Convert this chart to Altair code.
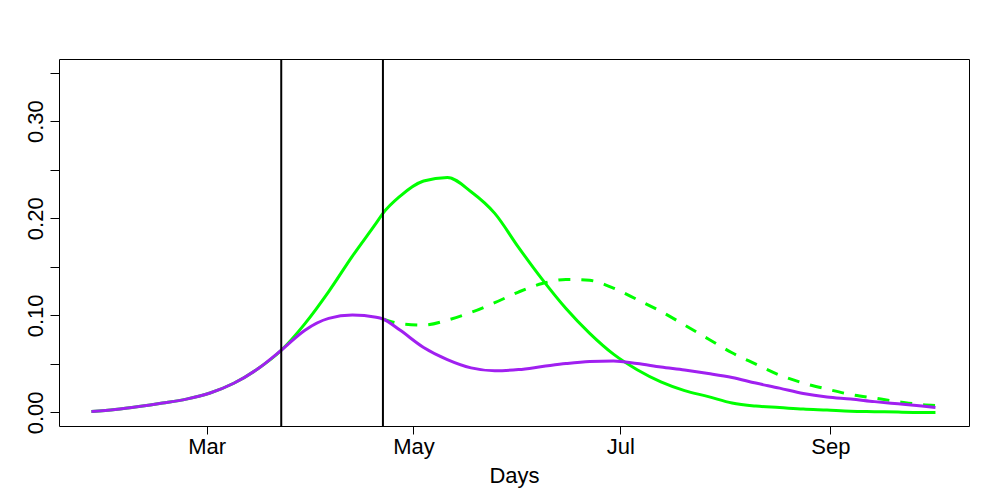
import altair as alt
import pandas as pd

# ---- data ----
dates = [
    "2020-01-27", "2020-02-03", "2020-02-10", "2020-02-17", "2020-02-24",
    "2020-03-02", "2020-03-09", "2020-03-16", "2020-03-23", "2020-03-30",
    "2020-04-06", "2020-04-13", "2020-04-20", "2020-04-22", "2020-04-27",
    "2020-05-04", "2020-05-11", "2020-05-18", "2020-05-25", "2020-06-01",
    "2020-06-08", "2020-06-15", "2020-06-22", "2020-06-29", "2020-07-06",
    "2020-07-13", "2020-07-20", "2020-07-27", "2020-08-03", "2020-08-10",
    "2020-08-17", "2020-08-24", "2020-08-31", "2020-09-07", "2020-09-14",
    "2020-09-21", "2020-09-28", "2020-10-02",
]

green_solid = [
    0.001, 0.003, 0.006, 0.0096, 0.0137,
    0.020, 0.030, 0.0446, 0.064, 0.0915,
    0.1245, 0.161, 0.195, 0.205, 0.2225,
    0.2383, 0.242, 0.2273, 0.205, 0.170,
    0.137, 0.107, 0.0814, 0.060, 0.044,
    0.0315, 0.0225, 0.0163, 0.0096, 0.0065,
    0.005, 0.0034, 0.0024, 0.0013, 0.0008,
    0.0003, 0.0, 0.0,
]

purple_solid = [
    0.001, 0.003, 0.006, 0.0096, 0.0137,
    0.020, 0.030, 0.0446, 0.064, 0.0847,
    0.0968, 0.1003, 0.098, 0.0962, 0.0848,
    0.0669, 0.0544, 0.0459, 0.0429, 0.0441,
    0.0472, 0.0503, 0.0524, 0.0529, 0.0503,
    0.0467, 0.0436, 0.040, 0.0359, 0.0302,
    0.025, 0.0194, 0.0158, 0.0137, 0.0111,
    0.0088, 0.0065, 0.005,
]

green_dashed = [None] * 13 + [
    0.0962, 0.0915,
    0.090, 0.095, 0.103, 0.113, 0.124,
    0.1328, 0.137, 0.136, 0.128, 0.1163,
    0.104, 0.090, 0.0756, 0.0614, 0.0498,
    0.0385, 0.0302, 0.024, 0.0184, 0.0147,
    0.0111, 0.008, 0.0072,
]

vline_dates = ["2020-03-23", "2020-04-22"]
y_ticks = [0.0, 0.05, 0.10, 0.15, 0.20, 0.25, 0.30, 0.35]
x_title = "Days"

FONT = "Liberation Sans"

df = pd.DataFrame({
    "date": dates,
    "green": green_solid,
    "purple": purple_solid,
    "dashed": green_dashed,
})
df_dash = df.dropna(subset=["dashed"])
df_rules = pd.DataFrame({"date": vline_dates})

x_scale = alt.Scale(
    type="utc",
    domain=[
        alt.DateTime(year=2020, month=1, date=17, hours=10, minutes=30, utc=True),
        alt.DateTime(year=2020, month=10, date=11, hours=21, minutes=30, utc=True),
    ],
    nice=False,
)
x_axis = alt.Axis(
    values=[
        alt.DateTime(year=2020, month=3, date=1, utc=True),
        alt.DateTime(year=2020, month=5, date=1, utc=True),
        alt.DateTime(year=2020, month=7, date=1, utc=True),
        alt.DateTime(year=2020, month=9, date=1, utc=True),
    ],
    labelExpr="utcFormat(datum.value, '%b')",
    grid=False,
    domain=False,
    tickSize=8,
    tickColor="black",
    tickWidth=1,
    labelPadding=2,
    labelFontSize=22,
    labelFont=FONT,
    labelColor="black",
    labelFlush=False,
    labelOverlap=False,
    title=x_title,
    titleFont=FONT,
    titleFontSize=22,
    titleFontWeight="normal",
    titleColor="black",
    titleBaseline="alphabetic",
    titleY=56,
)

y_scale = alt.Scale(domain=[-0.014, 0.364], nice=False, zero=False)
y_axis = alt.Axis(
    values=y_ticks,
    labelExpr="round(datum.value*100) % 10 == 0 ? format(datum.value, '.2f') : ''",
    grid=False,
    domain=False,
    tickSize=9,
    tickColor="black",
    tickWidth=1,
    labelAngle=-90,
    labelAlign="center",
    labelBaseline="alphabetic",
    labelPadding=8,
    labelFontSize=22,
    labelFont=FONT,
    labelColor="black",
    labelFlush=False,
    labelOverlap=False,
    title=None,
)

green_line = alt.Chart(df).mark_line(
    color="#00FF00", strokeWidth=3, interpolate="monotone"
).encode(
    x=alt.X("date:T", scale=x_scale, axis=x_axis),
    y=alt.Y("green:Q", scale=y_scale, axis=y_axis),
)

dashed_line = alt.Chart(df_dash).mark_line(
    color="#00FF00", strokeWidth=3, interpolate="monotone", strokeDash=[12, 11]
).encode(
    x=alt.X("date:T", scale=x_scale),
    y=alt.Y("dashed:Q", scale=y_scale),
)

purple_line = alt.Chart(df).mark_line(
    color="#A020F0", strokeWidth=3, interpolate="monotone"
).encode(
    x=alt.X("date:T", scale=x_scale),
    y=alt.Y("purple:Q", scale=y_scale),
)

rules = alt.Chart(df_rules).mark_rule(color="black", strokeWidth=2).encode(
    x=alt.X("date:T", scale=x_scale),
)

chart = alt.layer(green_line, dashed_line, purple_line, rules).properties(
    width=910,
    height=367,
    autosize=alt.AutoSizeParams(type="none"),
    padding={"left": 51, "top": 51, "right": 15, "bottom": 64},
    background="white",
).configure_view(
    stroke="black",
    strokeWidth=1,
)

chart.save("out.html", embed_options={"renderer": "svg", "actions": False})
